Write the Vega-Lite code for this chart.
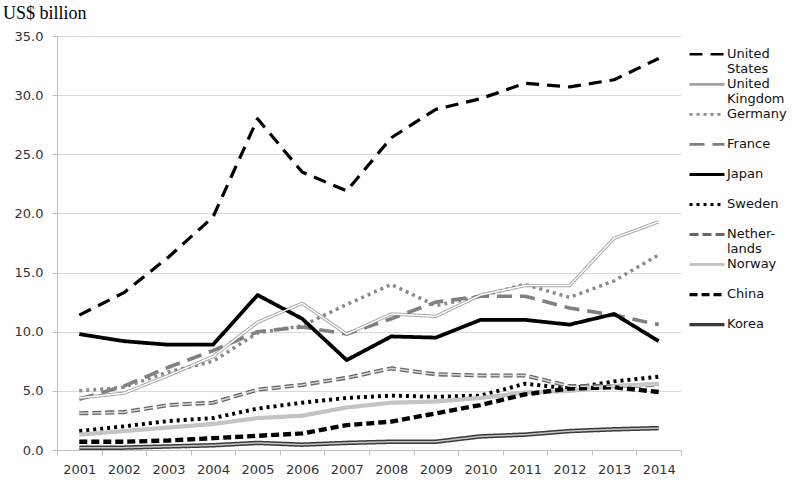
{
  "$schema": "https://vega.github.io/schema/vega-lite/v6.json",
  "width": 624,
  "height": 414,
  "autosize": {"type": "none"},
  "padding": {"left": 57, "top": 36, "right": 129, "bottom": 36},
  "background": "white",
  "title": {
    "text": "US$ billion",
    "anchor": "start",
    "frame": "group",
    "font": "Liberation Serif",
    "fontSize": 18,
    "fontWeight": "normal",
    "color": "#000000",
    "baseline": "alphabetic",
    "offset": 4,
    "dx": -54,
    "dy": 11
  },
  "config": {
    "view": {"stroke": null},
    "axis": {
      "labelFont": "DejaVu Sans",
      "labelFontSize": 13,
      "labelColor": "#333333",
      "domainColor": "#bfbfbf",
      "tickColor": "#bfbfbf",
      "gridColor": "#d9d9d9",
      "title": null
    },
    "legend": {
      "labelFont": "DejaVu Sans",
      "labelFontSize": 13,
      "labelColor": "#111111"
    }
  },
  "data": {
    "values": [
      {"year": "2001", "country": "United States", "value": 11.4},
      {"year": "2002", "country": "United States", "value": 13.3},
      {"year": "2003", "country": "United States", "value": 16.3},
      {"year": "2004", "country": "United States", "value": 19.7},
      {"year": "2005", "country": "United States", "value": 28.0},
      {"year": "2006", "country": "United States", "value": 23.5},
      {"year": "2007", "country": "United States", "value": 21.9},
      {"year": "2008", "country": "United States", "value": 26.4},
      {"year": "2009", "country": "United States", "value": 28.8},
      {"year": "2010", "country": "United States", "value": 29.7},
      {"year": "2011", "country": "United States", "value": 31.0},
      {"year": "2012", "country": "United States", "value": 30.7},
      {"year": "2013", "country": "United States", "value": 31.3},
      {"year": "2014", "country": "United States", "value": 33.1},
      {"year": "2001", "country": "United Kingdom", "value": 4.4},
      {"year": "2002", "country": "United Kingdom", "value": 4.8},
      {"year": "2003", "country": "United Kingdom", "value": 6.3},
      {"year": "2004", "country": "United Kingdom", "value": 7.9},
      {"year": "2005", "country": "United Kingdom", "value": 10.8},
      {"year": "2006", "country": "United Kingdom", "value": 12.4},
      {"year": "2007", "country": "United Kingdom", "value": 9.8},
      {"year": "2008", "country": "United Kingdom", "value": 11.5},
      {"year": "2009", "country": "United Kingdom", "value": 11.3},
      {"year": "2010", "country": "United Kingdom", "value": 13.1},
      {"year": "2011", "country": "United Kingdom", "value": 13.9},
      {"year": "2012", "country": "United Kingdom", "value": 13.9},
      {"year": "2013", "country": "United Kingdom", "value": 17.9},
      {"year": "2014", "country": "United Kingdom", "value": 19.3},
      {"year": "2001", "country": "Germany", "value": 5.0},
      {"year": "2002", "country": "Germany", "value": 5.3},
      {"year": "2003", "country": "Germany", "value": 6.6},
      {"year": "2004", "country": "Germany", "value": 7.5},
      {"year": "2005", "country": "Germany", "value": 9.9},
      {"year": "2006", "country": "Germany", "value": 10.5},
      {"year": "2007", "country": "Germany", "value": 12.3},
      {"year": "2008", "country": "Germany", "value": 14.0},
      {"year": "2009", "country": "Germany", "value": 12.2},
      {"year": "2010", "country": "Germany", "value": 13.0},
      {"year": "2011", "country": "Germany", "value": 14.0},
      {"year": "2012", "country": "Germany", "value": 12.9},
      {"year": "2013", "country": "Germany", "value": 14.3},
      {"year": "2014", "country": "Germany", "value": 16.5},
      {"year": "2001", "country": "France", "value": 4.3},
      {"year": "2002", "country": "France", "value": 5.4},
      {"year": "2003", "country": "France", "value": 7.0},
      {"year": "2004", "country": "France", "value": 8.4},
      {"year": "2005", "country": "France", "value": 10.0},
      {"year": "2006", "country": "France", "value": 10.4},
      {"year": "2007", "country": "France", "value": 9.8},
      {"year": "2008", "country": "France", "value": 11.1},
      {"year": "2009", "country": "France", "value": 12.5},
      {"year": "2010", "country": "France", "value": 13.0},
      {"year": "2011", "country": "France", "value": 13.0},
      {"year": "2012", "country": "France", "value": 12.0},
      {"year": "2013", "country": "France", "value": 11.4},
      {"year": "2014", "country": "France", "value": 10.6},
      {"year": "2001", "country": "Japan", "value": 9.8},
      {"year": "2002", "country": "Japan", "value": 9.2},
      {"year": "2003", "country": "Japan", "value": 8.9},
      {"year": "2004", "country": "Japan", "value": 8.9},
      {"year": "2005", "country": "Japan", "value": 13.1},
      {"year": "2006", "country": "Japan", "value": 11.1},
      {"year": "2007", "country": "Japan", "value": 7.6},
      {"year": "2008", "country": "Japan", "value": 9.6},
      {"year": "2009", "country": "Japan", "value": 9.5},
      {"year": "2010", "country": "Japan", "value": 11.0},
      {"year": "2011", "country": "Japan", "value": 11.0},
      {"year": "2012", "country": "Japan", "value": 10.6},
      {"year": "2013", "country": "Japan", "value": 11.5},
      {"year": "2014", "country": "Japan", "value": 9.2},
      {"year": "2001", "country": "Sweden", "value": 1.6},
      {"year": "2002", "country": "Sweden", "value": 2.0},
      {"year": "2003", "country": "Sweden", "value": 2.45},
      {"year": "2004", "country": "Sweden", "value": 2.7},
      {"year": "2005", "country": "Sweden", "value": 3.5},
      {"year": "2006", "country": "Sweden", "value": 4.0},
      {"year": "2007", "country": "Sweden", "value": 4.4},
      {"year": "2008", "country": "Sweden", "value": 4.6},
      {"year": "2009", "country": "Sweden", "value": 4.5},
      {"year": "2010", "country": "Sweden", "value": 4.6},
      {"year": "2011", "country": "Sweden", "value": 5.6},
      {"year": "2012", "country": "Sweden", "value": 5.2},
      {"year": "2013", "country": "Sweden", "value": 5.8},
      {"year": "2014", "country": "Sweden", "value": 6.2},
      {"year": "2001", "country": "Netherlands", "value": 3.1},
      {"year": "2002", "country": "Netherlands", "value": 3.2},
      {"year": "2003", "country": "Netherlands", "value": 3.8},
      {"year": "2004", "country": "Netherlands", "value": 4.0},
      {"year": "2005", "country": "Netherlands", "value": 5.1},
      {"year": "2006", "country": "Netherlands", "value": 5.5},
      {"year": "2007", "country": "Netherlands", "value": 6.1},
      {"year": "2008", "country": "Netherlands", "value": 6.9},
      {"year": "2009", "country": "Netherlands", "value": 6.4},
      {"year": "2010", "country": "Netherlands", "value": 6.3},
      {"year": "2011", "country": "Netherlands", "value": 6.3},
      {"year": "2012", "country": "Netherlands", "value": 5.4},
      {"year": "2013", "country": "Netherlands", "value": 5.4},
      {"year": "2014", "country": "Netherlands", "value": 5.5},
      {"year": "2001", "country": "Norway", "value": 1.3},
      {"year": "2002", "country": "Norway", "value": 1.6},
      {"year": "2003", "country": "Norway", "value": 1.9},
      {"year": "2004", "country": "Norway", "value": 2.2},
      {"year": "2005", "country": "Norway", "value": 2.7},
      {"year": "2006", "country": "Norway", "value": 2.9},
      {"year": "2007", "country": "Norway", "value": 3.6},
      {"year": "2008", "country": "Norway", "value": 4.0},
      {"year": "2009", "country": "Norway", "value": 4.1},
      {"year": "2010", "country": "Norway", "value": 4.4},
      {"year": "2011", "country": "Norway", "value": 4.85},
      {"year": "2012", "country": "Norway", "value": 5.0},
      {"year": "2013", "country": "Norway", "value": 5.4},
      {"year": "2014", "country": "Norway", "value": 5.6},
      {"year": "2001", "country": "China", "value": 0.7},
      {"year": "2002", "country": "China", "value": 0.7},
      {"year": "2003", "country": "China", "value": 0.8},
      {"year": "2004", "country": "China", "value": 1.0},
      {"year": "2005", "country": "China", "value": 1.2},
      {"year": "2006", "country": "China", "value": 1.4},
      {"year": "2007", "country": "China", "value": 2.1},
      {"year": "2008", "country": "China", "value": 2.4},
      {"year": "2009", "country": "China", "value": 3.1},
      {"year": "2010", "country": "China", "value": 3.8},
      {"year": "2011", "country": "China", "value": 4.7},
      {"year": "2012", "country": "China", "value": 5.2},
      {"year": "2013", "country": "China", "value": 5.3},
      {"year": "2014", "country": "China", "value": 4.9},
      {"year": "2001", "country": "Korea", "value": 0.2},
      {"year": "2002", "country": "Korea", "value": 0.2},
      {"year": "2003", "country": "Korea", "value": 0.3},
      {"year": "2004", "country": "Korea", "value": 0.4},
      {"year": "2005", "country": "Korea", "value": 0.6},
      {"year": "2006", "country": "Korea", "value": 0.45},
      {"year": "2007", "country": "Korea", "value": 0.6},
      {"year": "2008", "country": "Korea", "value": 0.7},
      {"year": "2009", "country": "Korea", "value": 0.7},
      {"year": "2010", "country": "Korea", "value": 1.15},
      {"year": "2011", "country": "Korea", "value": 1.3},
      {"year": "2012", "country": "Korea", "value": 1.6},
      {"year": "2013", "country": "Korea", "value": 1.75},
      {"year": "2014", "country": "Korea", "value": 1.85}
    ]
  },
  "encoding": {
    "x": {
      "field": "year",
      "type": "ordinal",
      "bandPosition": 0.5,
      "scale": {"type": "band", "paddingInner": 0, "paddingOuter": 0},
      "axis": {
        "tickBand": "extent",
        "tickSize": 5,
        "labelPadding": 8,
        "labelAngle": 0,
        "grid": false
      }
    },
    "y": {
      "field": "value",
      "type": "quantitative",
      "scale": {"domain": [0, 35], "nice": false},
      "axis": {
        "values": [0, 5, 10, 15, 20, 25, 30, 35],
        "format": ".1f",
        "tickSize": 5,
        "labelPadding": 9,
        "grid": true
      }
    }
  },
  "layer": [
    {
      "mark": {"type": "line", "strokeCap": "butt", "strokeJoin": "round"},
      "encoding": {
        "color": {
          "field": "country",
          "type": "nominal",
          "scale": {
            "domain": ["United States", "United Kingdom", "Germany", "France", "Japan", "Sweden", "Netherlands", "Norway", "China", "Korea"],
            "range": ["#000000", "#a3a3a3", "#8a8a8a", "#808080", "#000000", "#000000", "#666666", "#c4c4c4", "#000000", "#3a3a3a"]
          },
          "legend": {
            "title": null,
            "orient": "none",
            "legendX": 630,
            "legendY": 17,
            "padding": 0,
            "symbolType": "stroke",
            "symbolSize": 1225,
            "labelOffset": 0,
            "rowPadding": 2,
            "clipHeight": 2,
            "gridAlign": "all",
            "labelExpr": "datum.label == 'United States' ? ['United', 'States'] : datum.label == 'United Kingdom' ? ['United', 'Kingdom'] : datum.label == 'Netherlands' ? ['Nether-', 'lands'] : datum.label",
            "encode": {
              "labels": {
                "update": {
                  "lineHeight": {"value": 15}
                }
              }
            }
          }
        },
        "strokeDash": {
          "field": "country",
          "type": "nominal",
          "scale": {
            "domain": ["United States", "United Kingdom", "Germany", "France", "Japan", "Sweden", "Netherlands", "Norway", "China", "Korea"],
            "range": [[13, 8], [1, 0], [3, 4], [15, 8], [1, 0], [3, 4], [9, 4], [1, 0], [8, 4], [1, 0]]
          }
        },
        "strokeWidth": {
          "field": "country",
          "type": "nominal",
          "scale": {
            "domain": ["United States", "United Kingdom", "Germany", "France", "Japan", "Sweden", "Netherlands", "Norway", "China", "Korea"],
            "range": [3.2, 4.5, 3.2, 3.8, 3.2, 3.2, 5, 4, 3.5, 4.5]
          }
        }
      }
    },
    {
      "transform": [{"filter": {"field": "country", "oneOf": ["United Kingdom", "Netherlands", "Korea"]}}],
      "mark": {"type": "line", "strokeCap": "butt", "strokeJoin": "round", "strokeWidth": 1.5},
      "encoding": {
        "color": {
          "field": "country",
          "type": "nominal",
          "scale": {
            "domain": ["United Kingdom", "Netherlands", "Korea"],
            "range": ["#ffffff", "#d4d4d4", "#c4c4c4"]
          },
          "legend": null
        },
        "strokeDash": {
          "field": "country",
          "type": "nominal",
          "scale": {
            "domain": ["United Kingdom", "Netherlands", "Korea"],
            "range": [[1, 0], [9, 4], [1, 0]]
          },
          "legend": null
        }
      }
    }
  ],
  "resolve": {"scale": {"color": "independent", "strokeDash": "independent", "strokeWidth": "independent"}}
}
